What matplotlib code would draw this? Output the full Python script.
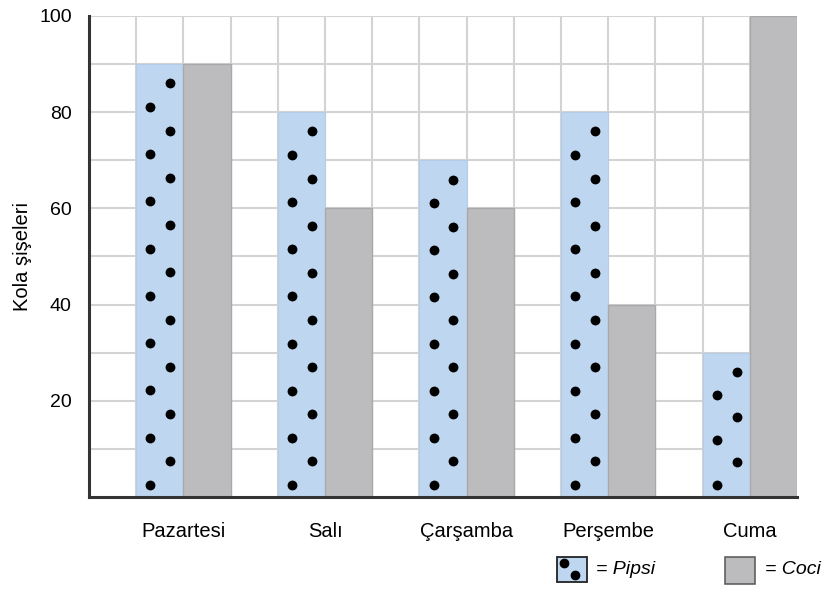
import matplotlib
matplotlib.use("Agg")
import matplotlib.pyplot as plt
from matplotlib.patches import Rectangle
import numpy as np

days = ["Pazartesi", "Salı", "Çarşamba", "Perşembe", "Cuma"]
pipsi = [90, 80, 70, 80, 30]
coci = [90, 60, 60, 40, 100]
yticks = [20, 40, 60, 80, 100]
ylabel = "Kola şişeleri"
legend_labels = ["= Pipsi", "= Coci"]

plt.rcParams['font.family'] = ['Liberation Sans', 'DejaVu Sans']

blue = "#bed6ef"
gray = "#bcbcbe"
gray_edge = "#a9a9ab"
gridc = "#d3d3d3"

fig = plt.figure(figsize=(8.25, 5.92), dpi=100)
ax = fig.add_axes([0.108, 0.1605, 0.858, 0.8125])

ax.set_xlim(0, 15)
ax.set_ylim(0, 100)

# grid
for gx in range(1, 15):
    ax.axvline(gx, color=gridc, lw=1.5, zorder=0)
for gy in range(10, 101, 10):
    ax.axhline(gy, color=gridc, lw=1.5, zorder=0)

x = np.arange(len(days)) * 3 + 2
ax.bar(x - 0.5, pipsi, width=1.0, color=blue, edgecolor="#b3cde8", lw=0.8, zorder=2)
ax.bar(x + 0.5, coci, width=1.0, color=gray, edgecolor=gray_edge, lw=1.0, zorder=2)

# dot decoration inside Pipsi bars (zigzag pattern)
for xi, v in zip(x, pipsi):
    n = max(int(round(v / 5.0)), 2)
    ys = np.linspace(2.5, v - 4.0, n)
    xs = [xi - 1 + (0.30 if k % 2 == 0 else 0.72) for k in range(n)]
    ax.scatter(xs, ys, s=50, color="black", zorder=3, linewidths=0)

for s in ["top", "right"]:
    ax.spines[s].set_visible(False)
for s in ["left", "bottom"]:
    ax.spines[s].set_color("#333333")
    ax.spines[s].set_linewidth(2.2)

ax.set_yticks(yticks)
ax.set_yticklabels([str(t) for t in yticks], fontsize=14)
ax.set_xticks(x)
ax.set_xticklabels(days, fontsize=14.5)
ax.tick_params(axis="x", length=0, pad=18)
ax.tick_params(axis="y", length=0, pad=12.5)
ax.set_ylabel(ylabel, fontsize=14.5, labelpad=5)

# legend drawn in figure coords
fig.patches.append(Rectangle((557/825, 1 - 582/592), 30/825, 25/592, transform=fig.transFigure,
                             facecolor=blue, edgecolor="#222222", lw=1.3))
fig.add_artist(plt.Line2D([564/825], [1 - 563/592], marker="o", ms=6, color="black",
                          transform=fig.transFigure, ls="none"))
fig.add_artist(plt.Line2D([575/825], [1 - 575/592], marker="o", ms=6, color="black",
                          transform=fig.transFigure, ls="none"))
fig.text(596/825, 1 - 570/592, legend_labels[0], fontsize=14, style="italic", va="center")
fig.patches.append(Rectangle((725/825, 1 - 584/592), 30/825, 27/592, transform=fig.transFigure,
                             facecolor=gray, edgecolor="#555555", lw=1.1))
fig.text(765/825, 1 - 570/592, legend_labels[1], fontsize=14, style="italic", va="center")

fig.savefig("out.png", dpi=100)
